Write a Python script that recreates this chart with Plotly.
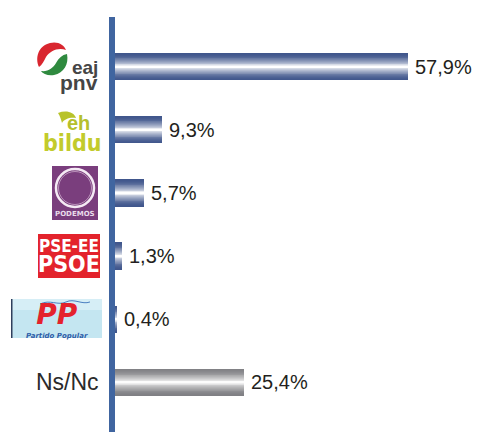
import plotly.graph_objects as go

# ---------------- data ----------------
categories = ["EAJ-PNV", "EH Bildu", "Podemos", "PSE-EE PSOE", "PP", "Ns/Nc"]
values = [57.9, 9.3, 5.7, 1.3, 0.4, 25.4]
value_labels = ["57,9%", "9,3%", "5,7%", "1,3%", "0,4%", "25,4%"]
bar_kind = ["party", "party", "party", "party", "party", "other"]

# ---------------- style ----------------
W, H = 478, 432
ML, MT = 115, 17
PW, PH = W - ML, H - MT
BAR_W = 0.43
N_LAYERS = 16
EDGE = {"party": (64, 86, 140), "other": (128, 128, 132)}
CENTER = {"party": (255, 255, 255), "other": (252, 252, 252)}


def mix(c1, c2, t):
    return "rgb(%d,%d,%d)" % tuple(round(a + (b - a) * t) for a, b in zip(c1, c2))


fig = go.Figure()
for i in range(N_LAYERS):
    t = i / (N_LAYERS - 1)
    w = BAR_W * (1 - 0.95 * t)
    cols = [mix(EDGE[k], CENTER[k], t ** 1.7) for k in bar_kind]
    fig.add_trace(go.Bar(
        x=values, y=categories, orientation="h", width=w,
        marker=dict(color=cols, line=dict(width=0)),
        hoverinfo="skip", showlegend=False,
    ))

# value labels
for c, v, lab in zip(categories, values, value_labels):
    fig.add_annotation(x=v, y=c, xref="x", yref="y", text=lab, showarrow=False,
                       xanchor="left", yanchor="middle", xshift=5,
                       font=dict(family="Liberation Sans, Arial", size=20, color="#231f20"))


# ------------- logo decorations (pixel helpers) -------------
def px(x):
    return (x - ML) / PW


def py(y):
    return (H - y) / PH


def P(x, y):
    return "%.4f,%.4f" % (px(x), py(y))


shapes = []
annos = []


def rect(x0, y0, x1, y1, fill, line=None):
    shapes.append(dict(type="rect", xref="paper", yref="paper",
                       x0=px(x0), x1=px(x1), y0=py(y1), y1=py(y0),
                       fillcolor=fill, line=dict(width=0) if line is None else line, layer="above"))


def path(d, fill=None, line=None):
    s = dict(type="path", xref="paper", yref="paper", path=d, layer="above",
             line=dict(width=0) if line is None else line)
    if fill:
        s["fillcolor"] = fill
    shapes.append(s)


def text(x, y, t, size, color, family="Liberation Sans, Arial", xanchor="center",
         bold=False, italic=False, align="center"):
    if bold:
        t = "<b>%s</b>" % t
    if italic:
        t = "<i>%s</i>" % t
    annos.append(dict(x=px(x), y=py(y), xref="paper", yref="paper", text=t, showarrow=False,
                      xanchor=xanchor, yanchor="middle", borderpad=0, align=align,
                      font=dict(family=family, size=size, color=color)))


def sz(t, s):
    return "<span style='font-size:%dpx'>%s</span>" % (s, t)


# EAJ-PNV emblem (red upper crescent, green lower crescent)
path("M" + P(39, 67) + " C" + P(35, 58) + " " + P(38, 46) + " " + P(50, 43)
     + " C" + P(58, 41) + " " + P(64, 45) + " " + P(66, 50)
     + " C" + P(58, 47) + " " + P(50, 51) + " " + P(46, 57)
     + " C" + P(44, 61) + " " + P(42, 65) + " " + P(39, 67) + " Z", fill="#d9262f")
path("M" + P(67, 54) + " C" + P(69, 64) + " " + P(64, 73) + " " + P(54, 75)
     + " C" + P(48, 76) + " " + P(43, 74) + " " + P(41, 71)
     + " C" + P(48, 72) + " " + P(53, 68) + " " + P(56, 63)
     + " C" + P(59, 58) + " " + P(62, 55) + " " + P(67, 54) + " Z", fill="#2f8a3f")
text(100, 76, sz("eaj", 19) + "&#8202;<br>" + sz("pnv", 21) + "&#8202;&#8202;", 12,
     "#454545", xanchor="right", bold=True, align="right")

# EH Bildu
path("M" + P(58, 113) + " C" + P(66, 110) + " " + P(74, 112) + " " + P(76, 118)
     + " C" + P(70, 117) + " " + P(64, 119) + " " + P(62, 123)
     + " C" + P(61, 119) + " " + P(60, 116) + " " + P(58, 113) + " Z", fill="#b8c32a")
text(91, 123, "eh", 20, "#b5bf2c", xanchor="right", bold=True)
text(72, 143, "bildu", 23, "#c2cb2c",
     family="Liberation Sans Narrow, DejaVu Sans Condensed, Arial", bold=True)

# Podemos
rect(52, 166, 98, 220, "#7a3e7d")
shapes.append(dict(type="circle", xref="paper", yref="paper",
                   x0=px(56), x1=px(94), y0=py(207), y1=py(169),
                   line=dict(color="#f4eaf4", width=2.5), layer="above"))
shapes.append(dict(type="circle", xref="paper", yref="paper",
                   x0=px(58.5), x1=px(91.5), y0=py(204.5), y1=py(171.5),
                   line=dict(color="#c9a7c9", width=0.8), layer="above"))
text(75, 214, "PODEMOS", 7, "#e9dbea", family="DejaVu Sans, Arial", bold=True)

# PSE-EE PSOE
rect(38, 234, 100, 278, "#e3232c")
text(69, 256, sz("PSE-EE", 17) + "<br>" + sz("PSOE", 23), 15, "#ffffff",
     family="Liberation Sans Narrow, DejaVu Sans Condensed, Arial", bold=True)

# PP
rect(12, 299, 102, 338, "#c4e6f1")
rect(12, 299, 102, 310, "#d6eef6")
rect(11, 299, 12.5, 338, "#2f3f5c")
path("M" + P(40, 304) + " C" + P(50, 299) + " " + P(58, 306) + " " + P(66, 302)
     + " C" + P(74, 298) + " " + P(82, 305) + " " + P(90, 302),
     line=dict(color="#4a7fc1", width=1))
text(57, 319, "<span style='font-size:28px;color:#e4222c'>PP</span><br>"
     + "<span style='font-size:7px;color:#2f5ea8'>Partido Popular</span>", 11,
     "#2f5ea8", family="DejaVu Sans, Arial", bold=True, italic=True)

# Ns/Nc
text(100, 382, "Ns/Nc", 23, "#2b2b2b", xanchor="right")

fig.update_layout(
    width=W, height=H,
    margin=dict(l=ML, r=0, t=MT, b=0),
    paper_bgcolor="white", plot_bgcolor="white",
    barmode="overlay", bargap=0,
    shapes=shapes, annotations=list(fig.layout.annotations) + annos,
    xaxis=dict(range=[0, PW / 5.06], visible=False, fixedrange=True),
    yaxis=dict(type="category", categoryorder="array", categoryarray=categories,
               range=[5.79, -0.79], showticklabels=False, ticks="",
               showgrid=False, zeroline=False, fixedrange=True,
               showline=True, linecolor="#4065a0", linewidth=6),
    showlegend=False,
)

fig.write_html("out.html", config={"displayModeBar": False},
               post_script="document.body.style.margin='0';")
